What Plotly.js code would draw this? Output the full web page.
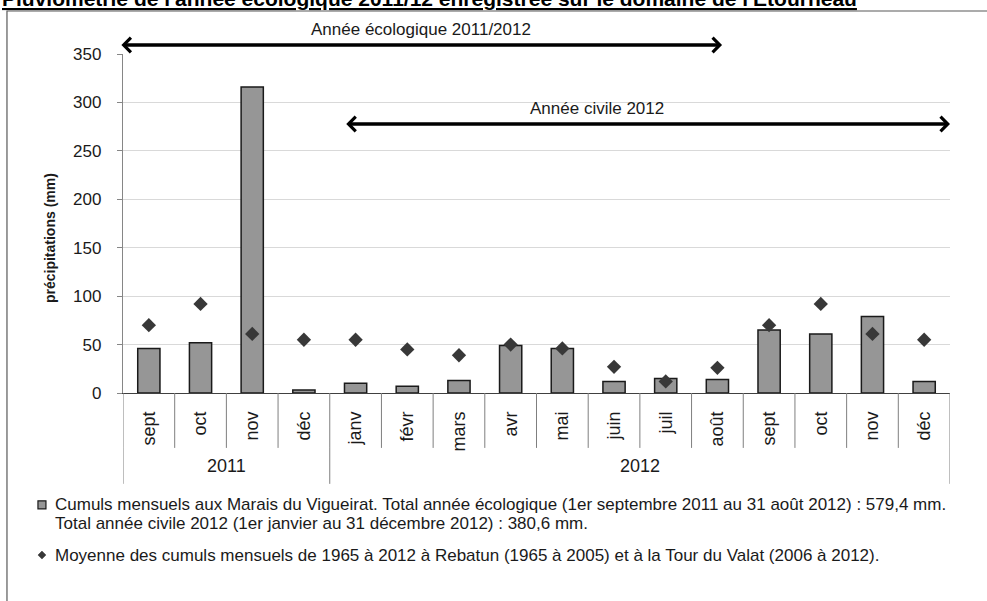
<!DOCTYPE html>
<html>
<head>
<meta charset="utf-8">
<script src="https://cdn.plot.ly/plotly-3.0.1.min.js"></script>
<style>
  html, body { margin: 0; padding: 0; background: #ffffff; }
  #chart { width: 987px; height: 601px; }
</style>
</head>
<body>
<div id="chart"></div>
<script>
// ---- Data ----
const months = ['sept', 'oct', 'nov', 'déc', 'janv', 'févr', 'mars', 'avr', 'mai', 'juin', 'juil', 'août', 'sept', 'oct', 'nov', 'déc'];
const yearLabels = ['2011', '2012'];
const monthsPerYear = [4, 12];
const cumulsVigueirat = [46, 52, 316, 3, 10, 7, 13, 49, 46, 12, 15, 14, 65, 61, 79, 12];
const moyenneCumuls = [70, 92, 61, 55, 55, 45, 39, 50, 46, 27, 12, 26, 70, 92, 61, 55];
const barName = 'Cumuls mensuels aux Marais du Vigueirat. Total année écologique (1er septembre 2011 au 31 août 2012) : 579,4 mm.';
const barName2 = 'Total année civile 2012 (1er janvier au 31 décembre 2012) : 380,6 mm.';
const markerName = 'Moyenne des cumuls mensuels de 1965 à 2012 à Rebatun (1965 à 2005) et à la Tour du Valat (2006 à 2012).';
const chartTitle = "Pluviométrie de l'année écologique 2011/12 enregistrée sur le domaine de l'Etourneau";

// ---- Build ----
const FONT = 'Liberation Sans, Arial, sans-serif';
const idx = months.map((m, i) => i);

const traces = [
  {
    type: 'bar',
    x: idx,
    y: cumulsVigueirat,
    width: 0.43,
    name: barName,
    marker: { color: '#969696', line: { color: '#1a1a1a', width: 1.5 } },
    hovertemplate: '%{y} mm<extra></extra>'
  },
  {
    type: 'scatter',
    mode: 'markers',
    x: idx,
    y: moyenneCumuls,
    name: markerName,
    marker: { symbol: 'diamond', size: 11, color: '#383838' },
    hovertemplate: '%{y} mm<extra></extra>'
  }
];

const shapes = [];
// month dividers below axis
for (let b = 0; b <= months.length; b++) {
  shapes.push({ type: 'line', xref: 'x', yref: 'paper', x0: b - 0.5, x1: b - 0.5, y0: 0, y1: -0.162,
    line: { color: '#7f7f7f', width: 1 } });
}
// year dividers (longer)
let acc = 0;
const yearBounds = [0];
monthsPerYear.forEach(n => { acc += n; yearBounds.push(acc); });
yearBounds.forEach(b => {
  shapes.push({ type: 'line', xref: 'x', yref: 'paper', x0: b - 0.5, x1: b - 0.5, y0: -0.162, y1: -0.268,
    line: { color: '#7f7f7f', width: 1 } });
});
// outer frame
shapes.push({ type: 'rect', xref: 'paper', yref: 'paper', x0: -0.1403, x1: 1.06, y0: -0.7, y1: 1.1268,
  line: { color: '#595959', width: 1.2 }, fillcolor: 'rgba(0,0,0,0)', layer: 'below' });
// legend symbols
shapes.push({ type: 'rect', xref: 'paper', yref: 'paper', xsizemode: 'pixel', ysizemode: 'pixel',
  xanchor: -0.098, yanchor: -0.330, x0: -4, x1: 4, y0: -4, y1: 4,
  fillcolor: '#969696', line: { color: '#1a1a1a', width: 1.2 } });
shapes.push({ type: 'path', xref: 'paper', yref: 'paper', xsizemode: 'pixel', ysizemode: 'pixel',
  xanchor: -0.098, yanchor: -0.478, path: 'M 0 -4 L 4 0 L 0 4 L -4 0 Z',
  fillcolor: '#383838', line: { color: '#383838', width: 0.5 } });

const annotations = [];
// year labels
let start = 0;
monthsPerYear.forEach((n, k) => {
  annotations.push({ xref: 'x', yref: 'paper', x: start + (n - 1) / 2, y: -0.215, xanchor: 'center', yanchor: 'middle',
    text: yearLabels[k], showarrow: false, font: { family: FONT, size: 18, color: '#1a1a1a' } });
  start += n;
});
// arrows (y in paper coords, tail offset 0 px vertically)
annotations.push({ xref: 'x', yref: 'paper', axref: 'x', ayref: 'pixel', x: 11.09, y: 1.0265, ax: -0.56, ay: 0,
  text: '', showarrow: true, arrowhead: 4, startarrowhead: 4, arrowside: 'end+start', arrowwidth: 3.5, arrowsize: 0.8,
  startarrowsize: 0.8, arrowcolor: '#000000' });
annotations.push({ xref: 'x', yref: 'paper', x: 5.26, y: 1.0708, xanchor: 'center', yanchor: 'middle',
  text: 'Année écologique 2011/2012', showarrow: false, font: { family: FONT, size: 17, color: '#1a1a1a' } });
annotations.push({ xref: 'x', yref: 'paper', axref: 'x', ayref: 'pixel', x: 15.5, y: 0.7935, ax: 3.79, ay: 0,
  text: '', showarrow: true, arrowhead: 4, startarrowhead: 4, arrowside: 'end+start', arrowwidth: 3.5, arrowsize: 0.8,
  startarrowsize: 0.8, arrowcolor: '#000000' });
annotations.push({ xref: 'x', yref: 'paper', x: 8.67, y: 0.8407, xanchor: 'center', yanchor: 'middle',
  text: 'Année civile 2012', showarrow: false, font: { family: FONT, size: 17, color: '#1a1a1a' } });
// y axis title
annotations.push({ xref: 'paper', yref: 'paper', x: -0.0883, y: 0.457, xanchor: 'center', yanchor: 'middle',
  text: '<b>précipitations (mm)</b>', textangle: -90,
  showarrow: false, font: { family: FONT, size: 14, color: '#1a1a1a' } });
// legend texts
annotations.push({ xref: 'paper', yref: 'paper', x: -0.0846, y: -0.330, xanchor: 'left', yanchor: 'middle', text: barName,
  showarrow: false, font: { family: FONT, size: 17, color: '#1a1a1a' } });
annotations.push({ xref: 'paper', yref: 'paper', x: -0.0846, y: -0.3835, xanchor: 'left', yanchor: 'middle', text: barName2,
  showarrow: false, font: { family: FONT, size: 17, color: '#1a1a1a' } });
annotations.push({ xref: 'paper', yref: 'paper', x: -0.0846, y: -0.478, xanchor: 'left', yanchor: 'middle', text: markerName,
  showarrow: false, font: { family: FONT, size: 17, color: '#1a1a1a' } });
// title (partly cut by the top edge, as in the source image)
annotations.push({ xref: 'paper', yref: 'paper', x: -0.1487, y: 1.1239, xanchor: 'left', yanchor: 'bottom',
  text: '<b><u>' + chartTitle + '</u></b>', showarrow: false, font: { family: FONT, size: 21, color: '#000000' } });

const layout = {
  width: 987,
  height: 601,
  margin: { l: 123, r: 37, t: 54, b: 208, pad: 0 },
  paper_bgcolor: '#ffffff',
  plot_bgcolor: '#ffffff',
  showlegend: false,
  bargap: 0,
  font: { family: FONT, color: '#1a1a1a' },
  xaxis: {
    range: [-0.5, 15.5],
    tickmode: 'array',
    tickvals: idx,
    ticktext: months,
    tickangle: -90,
    ticks: '',
    ticklabelstandoff: 10,
    tickfont: { family: FONT, size: 18, color: '#1a1a1a' },
    showline: true,
    linecolor: '#404040',
    linewidth: 1.2,
    showgrid: false,
    zeroline: false,
    fixedrange: true
  },
  yaxis: {
    range: [0, 350],
    tickmode: 'linear',
    tick0: 0,
    dtick: 50,
    ticks: 'outside',
    ticklen: 5,
    tickcolor: '#868686',
    ticklabelstandoff: 12,
    tickfont: { family: FONT, size: 17, color: '#1a1a1a' },
    showline: true,
    linecolor: '#868686',
    linewidth: 1.2,
    showgrid: true,
    gridcolor: '#d9d9d9',
    gridwidth: 1.2,
    zeroline: false,
    fixedrange: true
  },
  shapes: shapes,
  annotations: annotations
};

Plotly.newPlot('chart', traces, layout, { displayModeBar: false, staticPlot: true });
</script>
</body>
</html>
